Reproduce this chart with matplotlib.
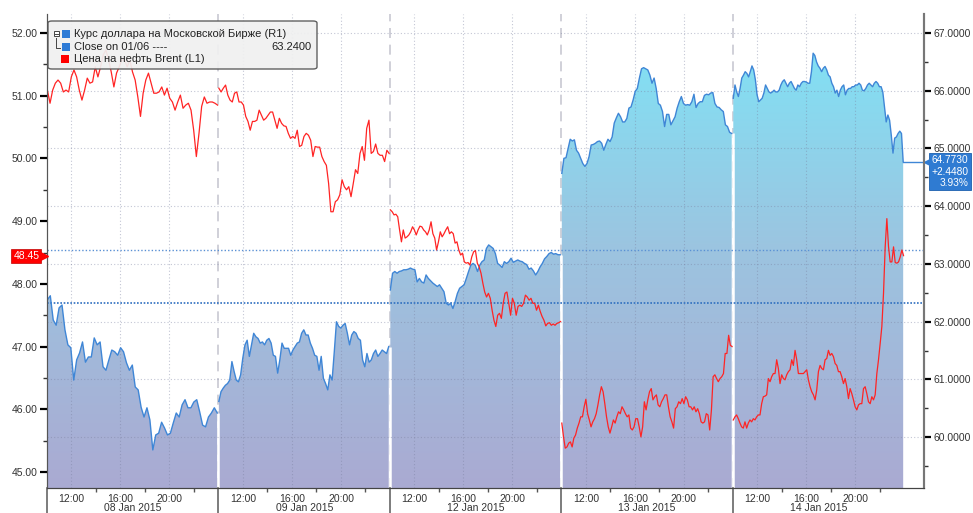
import numpy as np
import matplotlib.pyplot as plt
import matplotlib.transforms as mtransforms
from matplotlib.colors import LinearSegmentedColormap
from matplotlib.patches import Polygon, Rectangle, FancyBboxPatch
from matplotlib.lines import Line2D

plt.rcParams['font.family'] = ['Liberation Sans', 'DejaVu Sans']

days = ["08 Jan 2015", "09 Jan 2015", "12 Jan 2015", "13 Jan 2015", "14 Jan 2015"]
hour_labels = ["12:00", "16:00", "20:00"]

# USD/RUB on Moscow Exchange (right axis), one list per session
usd_08 = [62.38, 62.45, 62.03, 61.94, 62.24, 62.29, 61.86, 61.60, 61.55, 60.99, 61.34, 61.46,
          61.65, 61.30, 61.39, 61.39, 61.72, 61.60, 61.65, 61.22, 61.16, 61.34, 61.51, 61.48,
          61.42, 61.55, 61.48, 61.29, 61.16, 61.25, 60.87, 60.82, 60.52, 60.35, 60.51, 60.30,
          59.78, 60.04, 60.07, 60.26, 60.16, 60.04, 60.07, 60.25, 60.42, 60.35, 60.56, 60.65,
          60.51, 60.51, 60.61, 60.65, 60.44, 60.21, 60.18, 60.35, 60.42, 60.51, 60.42]
usd_09 = [60.62, 60.79, 60.85, 60.90, 60.93, 60.99, 61.31, 61.14, 60.99, 60.96, 61.08, 61.37,
          61.60, 61.68, 61.40, 61.60, 61.80, 61.74, 61.71, 61.63, 61.65, 61.60, 61.68, 61.71,
          61.63, 61.42, 61.40, 61.11, 61.34, 61.63, 61.54, 61.54, 61.54, 61.42, 61.51, 61.57,
          61.63, 61.65, 61.80, 61.86, 61.77, 61.77, 61.63, 61.54, 61.42, 61.40, 61.16, 61.40,
          61.02, 60.93, 60.82, 61.08, 60.99, 61.48, 62.00, 61.92, 61.89, 61.94, 61.97, 61.80,
          61.60, 61.77, 61.83, 61.80, 61.71, 61.68, 61.34, 61.22, 61.45, 61.30, 61.34, 61.45,
          61.51, 61.40, 61.45, 61.51, 61.48, 61.45, 61.57]
usd_12 = [62.55, 62.84, 62.87, 62.84, 62.87, 62.88, 62.90, 62.90, 62.91, 62.93, 62.91, 62.90,
          62.69, 62.75, 62.69, 62.67, 62.81, 62.75, 62.71, 62.67, 62.64, 62.61, 62.64, 62.58,
          62.52, 62.32, 62.29, 62.32, 62.23, 62.35, 62.49, 62.58, 62.61, 62.64, 62.75, 62.87,
          62.98, 63.01, 62.98, 62.87, 62.98, 63.04, 63.07, 63.27, 63.33, 63.30, 63.27, 63.18,
          63.01, 62.98, 62.94, 63.04, 63.01, 63.04, 63.10, 63.03, 63.05, 63.07, 63.05, 63.04,
          63.01, 62.99, 62.91, 62.93, 62.88, 62.81, 62.87, 62.95, 63.01, 63.09, 63.13, 63.18,
          63.20, 63.17, 63.18, 63.16, 63.16]
usd_13 = [64.57, 64.83, 64.84, 65.00, 65.16, 65.13, 65.15, 64.97, 64.92, 64.83, 64.74, 64.69,
          64.74, 64.86, 65.06, 65.07, 65.09, 65.12, 65.13, 65.09, 64.97, 65.07, 65.16, 65.12,
          65.20, 65.44, 65.53, 65.61, 65.55, 65.46, 65.46, 65.52, 65.70, 65.72, 65.84, 65.99,
          66.04, 66.22, 66.38, 66.40, 66.38, 66.36, 66.27, 66.13, 66.22, 66.04, 65.78, 65.75,
          65.64, 65.38, 65.59, 65.59, 65.41, 65.48, 65.55, 65.70, 65.81, 65.90, 65.78, 65.75,
          65.76, 65.75, 65.81, 65.94, 65.71, 65.78, 65.81, 65.81, 65.92, 65.94, 65.93, 65.96,
          65.97, 65.78, 65.72, 65.71, 65.67, 65.64, 65.41, 65.38, 65.28, 65.26]
usd_14 = [65.87, 66.10, 65.98, 65.90, 66.04, 66.22, 66.27, 66.33, 66.30, 66.24, 66.33, 66.43,
          66.36, 66.19, 65.93, 65.81, 65.84, 65.87, 65.96, 66.10, 66.04, 65.98, 65.96, 65.98,
          66.01, 65.98, 65.98, 66.01, 66.10, 66.16, 66.19, 66.13, 66.07, 66.13, 66.16, 66.10,
          66.04, 66.01, 66.10, 66.07, 66.13, 66.16, 66.16, 66.15, 66.13, 66.13, 66.33, 66.65,
          66.61, 66.50, 66.43, 66.39, 66.33, 66.39, 66.42, 66.36, 66.27, 66.24, 66.13, 66.07,
          65.96, 66.01, 65.90, 66.01, 66.07, 66.10, 65.93, 66.01, 66.04, 66.04, 66.07, 66.07,
          66.10, 66.10, 66.13, 66.10, 66.01, 66.00, 66.04, 66.10, 66.13, 66.10, 66.07, 66.13,
          66.16, 66.13, 66.07, 66.07, 65.98, 65.72, 65.46, 65.58, 65.49, 65.23, 64.92, 65.18,
          65.20, 65.26, 65.30, 65.26, 64.773]

# Brent (left axis)
brent_08 = [51.09, 50.88, 51.09, 51.20, 51.25, 51.20, 51.06, 51.09, 51.06, 51.30, 51.41, 51.30,
            51.09, 50.93, 51.09, 51.28, 51.20, 51.22, 51.46, 51.30, 51.46, 51.65, 51.73, 51.57,
            51.38, 51.14, 51.36, 51.46, 51.57, 51.57, 51.46, 51.57, 51.38, 51.25, 50.98, 50.67,
            51.04, 51.25, 51.36, 51.20, 51.04, 51.04, 51.06, 51.14, 51.01, 51.12, 50.96, 50.90,
            50.77, 50.90, 51.01, 50.80, 50.85, 50.88, 50.77, 50.45, 50.03, 50.40, 50.83, 50.98,
            50.88, 50.90, 50.90, 50.88, 50.85]
brent_09 = [51.12, 51.06, 51.12, 51.17, 51.01, 50.93, 50.90, 51.04, 51.06, 50.90, 50.90, 50.85,
            50.67, 50.59, 50.45, 50.59, 50.59, 50.61, 50.77, 50.69, 50.61, 50.64, 50.69, 50.74,
            50.74, 50.61, 50.48, 50.64, 50.56, 50.52, 50.51, 50.40, 50.32, 50.35, 50.32, 50.45,
            50.19, 50.21, 50.35, 50.40, 50.37, 50.29, 50.03, 50.19, 50.18, 50.18, 50.03, 49.95,
            49.89, 49.60, 49.15, 49.15, 49.31, 49.34, 49.42, 49.66, 49.55, 49.50, 49.55, 49.39,
            49.60, 49.82, 49.76, 50.08, 50.19, 49.97, 50.48, 50.61, 50.08, 50.11, 50.23, 50.08,
            50.05, 50.05, 49.95, 50.13, 50.08]
brent_12 = [49.18, 49.15, 49.10, 49.11, 49.07, 48.86, 48.67, 48.86, 48.73, 48.75, 48.78, 48.83,
            48.91, 48.86, 48.78, 48.86, 48.92, 48.91, 48.86, 48.83, 48.78, 48.86, 48.99, 48.80,
            48.73, 48.54, 48.67, 48.83, 48.75, 48.80, 48.86, 48.91, 48.80, 48.83, 48.80, 48.65,
            48.67, 48.54, 48.46, 48.49, 48.35, 48.33, 48.34, 48.30, 48.43, 48.51, 48.53, 48.33,
            48.27, 48.17, 48.01, 47.87, 47.79, 47.85, 47.77, 47.58, 47.42, 47.32, 47.50, 47.53,
            47.45, 47.69, 47.85, 47.87, 47.69, 47.50, 47.77, 47.69, 47.50, 47.64, 47.66, 47.64,
            47.69, 47.82, 47.79, 47.74, 47.77, 47.69, 47.69, 47.58, 47.66, 47.56, 47.48, 47.42,
            47.33, 47.37, 47.38, 47.34, 47.36, 47.34, 47.37, 47.38, 47.40]
brent_13 = [45.78, 45.56, 45.38, 45.40, 45.46, 45.48, 45.40, 45.54, 45.59, 45.70, 45.78, 45.88,
            45.88, 46.04, 46.16, 45.93, 45.83, 45.72, 45.80, 45.85, 45.93, 46.07, 46.23, 46.36,
            46.28, 46.09, 45.88, 45.72, 45.62, 45.72, 45.83, 45.78, 45.88, 45.96, 45.93, 46.04,
            45.99, 45.93, 45.88, 45.91, 45.70, 45.67, 45.72, 45.85, 45.85, 45.72, 45.56, 45.72,
            46.12, 45.99, 46.15, 46.28, 46.33, 46.15, 46.20, 46.23, 46.07, 46.04, 46.12, 46.17,
            46.23, 46.23, 46.04, 45.88, 45.80, 45.70, 46.01, 46.04, 46.12, 46.09, 46.17, 46.09,
            46.20, 46.15, 46.04, 46.04, 45.99, 46.04, 45.96, 46.01, 45.93, 45.80, 45.78, 45.80,
            45.93, 45.91, 45.67, 45.99, 46.52, 46.55, 46.49, 46.44, 46.49, 46.52, 46.57, 46.89,
            46.89, 47.18, 47.02, 47.00]
brent_14 = [45.83, 45.88, 45.91, 45.85, 45.78, 45.72, 45.70, 45.80, 45.70, 45.78, 45.83, 45.80,
            45.85, 45.83, 45.88, 45.91, 45.91, 46.09, 46.20, 46.21, 46.23, 46.49, 46.44, 46.52,
            46.57, 46.57, 46.79, 46.65, 46.41, 46.55, 46.49, 46.47, 46.55, 46.60, 46.63, 46.79,
            46.70, 46.94, 46.79, 46.57, 46.57, 46.57, 46.57, 46.60, 46.63, 46.47, 46.36, 46.28,
            46.23, 46.15, 46.31, 46.60, 46.70, 46.65, 46.63, 46.79, 46.81, 46.94, 46.86, 46.89,
            46.84, 46.73, 46.70, 46.60, 46.60, 46.52, 46.41, 46.49, 46.36, 46.17, 46.33, 46.25,
            46.15, 46.04, 45.99, 46.07, 46.09, 46.09, 46.33, 46.36, 46.25, 46.12, 46.09, 46.20,
            46.15, 46.23, 46.57, 46.79, 47.05, 47.32, 47.85, 48.59, 49.04, 48.59, 48.35, 48.35,
            48.59, 48.34, 48.33, 48.35, 48.43, 48.54, 48.45]

usd_days = [usd_08, usd_09, usd_12, usd_13, usd_14]
brent_days = [brent_08, brent_09, brent_12, brent_13, brent_14]

usd_last = 64.7730
usd_change = 2.4480
usd_ref = usd_last - usd_change
close_0106 = 63.24
brent_last = 48.45

session = 14.0          # trading hours shown per day (10:00 - 24:00)
xmax = 5 * session + 1.6
ylim_l = (44.745, 52.303)
ylim_r = (59.121, 67.329)

fig = plt.figure(figsize=(9.73, 5.13), dpi=100)
ax = fig.add_axes([47 / 973, 25 / 513, 877 / 973, 474 / 513])
ax2 = ax.twinx()
ax.set_zorder(2)
ax.patch.set_visible(False)

cmap = LinearSegmentedColormap.from_list("bbg", ["#aaaad2", "#9cc4e0", "#7de6f8"])
grad = np.linspace(0, 1, 256).reshape(-1, 1)

# day separators (dashed above the area)
for d in range(1, 5):
    ax2.axvline(d * session, color="#c8c8d2", lw=1.2, ls=(0, (6, 4)), zorder=0.5)

times = []
for d, vals in enumerate(usd_days):
    t = d * session + np.linspace(0.03, 13.9, len(vals))
    times.append(t)
    verts = np.column_stack([np.r_[t[0], t, t[-1]], np.r_[ylim_r[0], vals, ylim_r[0]]])
    poly = Polygon(verts, closed=True, fc="none", ec="none")
    ax2.add_patch(poly)
    im = ax2.imshow(grad, extent=[0, xmax, ylim_r[0], ylim_r[1]], origin="lower",
                    aspect="auto", cmap=cmap, zorder=1)
    im.set_clip_path(poly)
    ax2.plot(t, vals, color="#3f86d6", lw=1.0, zorder=4)

for d in range(1, 5):
    top = min(usd_days[d - 1][-1], usd_days[d][0])
    ax2.vlines(d * session, ylim_r[0], top, color="white", lw=1.8, zorder=1.5)

# grid
for v in range(60, 68):
    ax2.axhline(v, color="#7a80a0", alpha=0.45, lw=0.8, ls=(0, (1, 2)), zorder=2)
hour_pos = [d * session + h for d in range(5) for h in (2, 6, 10)]
for x in hour_pos:
    ax2.axvline(x, color="#7a80a0", alpha=0.45, lw=0.8, ls=(0, (1, 2)), zorder=2)

ax2.axhline(close_0106, color="#5a90d4", lw=1.0, ls=(0, (1, 1.5)), zorder=3)
ax2.axhline(usd_ref, color="#2f6fc0", lw=1.2, ls=(0, (1, 1)), zorder=3)
ax2.plot([times[-1][-1], xmax], [usd_last, usd_last], color="#3f86d6", lw=1.0, zorder=4)

for d, vals in enumerate(brent_days):
    t = d * session + np.linspace(0.03, 13.93, len(vals))
    ax.plot(t, vals, color="#ff2424", lw=0.9)

ax.set_xlim(0, xmax)
ax.set_ylim(*ylim_l)
ax2.set_ylim(*ylim_r)

ax.set_yticks(range(45, 53))
ax.set_yticklabels([f"{v:.2f}" for v in range(45, 53)])
ax.set_yticks(np.arange(45.5, 52.5, 1), minor=True)
ax2.set_yticks(range(60, 68))
ax2.set_yticklabels([f"{v:.4f}" for v in range(60, 68)])
ax2.set_yticks(np.arange(59.5, 67.5, 1), minor=True)
for a in (ax, ax2):
    a.tick_params(axis="y", which="major", length=5, width=1.6, color="black",
                  labelsize=7.5, labelcolor="#333333", pad=2)
    a.tick_params(axis="y", which="minor", length=3, width=1, color="#333333")
    a.spines["top"].set_visible(False)

ax.set_xticks(hour_pos)
ax.set_xticklabels(hour_labels * 5)
ax.set_xticks([d * session + h for d in range(5) for h in (4, 8, 12)], minor=True)
ax.tick_params(axis="x", which="major", length=0, pad=4, labelsize=7.5, labelcolor="#333333")
ax.tick_params(axis="x", which="minor", length=3, width=1, color="#555555")

for a in (ax, ax2):
    a.spines["left"].set_color("#555555")
    a.spines["right"].set_color("#777777")
    a.spines["right"].set_linewidth(1.5)
    a.spines["bottom"].set_color("#444444")

tr_x = mtransforms.blended_transform_factory(ax.transData, ax.transAxes)
for d in range(5):
    ax.plot([d * session, d * session], [-0.053, 0], transform=tr_x, color="#666666",
            lw=1.2, clip_on=False)
    ax.text(d * session + session / 2, -0.043, days[d], transform=tr_x, ha="center",
            va="center", fontsize=7.5, color="#333333")

# last value labels
tr_r = mtransforms.blended_transform_factory(ax2.transAxes, ax2.transData)
pct = usd_change / usd_ref * 100
ax2.annotate(f"{usd_last:.4f}\n+{usd_change:.4f}\n{pct:.2f}%", xy=(1, usd_last), xycoords=tr_r,
             xytext=(32, 4.5), textcoords="offset points", ha="right", va="top",
             multialignment="right", color="white", fontsize=7.3, linespacing=1.15,
             bbox=dict(boxstyle="square,pad=0.22", fc="#2f7bd2", ec="#1b5fae", lw=0.6),
             annotation_clip=False, zorder=20)
ax2.plot([1 + 3 / 877], [usd_last], transform=tr_r, marker="<", ms=5, color="#2f7bd2",
         clip_on=False, zorder=21)

tr_l = mtransforms.blended_transform_factory(ax.transAxes, ax.transData)
ax.annotate(f"{brent_last:.2f}", xy=(0, brent_last), xycoords=tr_l, xytext=(-5.5, 0),
            textcoords="offset points", ha="right", va="center", color="white", fontsize=7.5,
            bbox=dict(boxstyle="square,pad=0.2", fc="#ff0000", ec="#c00000", lw=0.5),
            annotation_clip=False, zorder=20)
ax.plot([-3.5 / 877], [brent_last], transform=tr_l, marker=">", ms=6, color="#ff0000",
        clip_on=False, zorder=21)


# legend box, drawn in pixel positions of the figure
def fx(x):
    return x / 973


def fy(y):
    return 1 - y / 513


tf = fig.transFigure
fig.patches.append(FancyBboxPatch((fx(48), fy(69)), fx(317) - fx(48), fy(21) - fy(69),
                                  boxstyle="round,pad=0,rounding_size=0.004", transform=tf,
                                  fc="#f0f0f0", ec="#555555", lw=1, alpha=0.93, zorder=10))
fig.patches.append(Rectangle((fx(53.5), fy(36)), fx(5), fy(31) - fy(36), transform=tf,
                             fc="white", ec="#444444", lw=0.7, zorder=11))
fig.lines.append(Line2D([fx(54.5), fx(57.5)], [fy(33.5), fy(33.5)], transform=tf,
                        color="#444444", lw=0.7, zorder=12))
fig.lines.append(Line2D([fx(56), fx(56), fx(60)], [fy(38), fy(48), fy(48)], transform=tf,
                        color="#444444", lw=0.7, zorder=12))
sq = [(62, 30, "#2e7bd6"), (62, 43, "#2e7bd6"), (61, 54.5, "#ff0000")]
for x0, y0, c in sq:
    fig.patches.append(Rectangle((fx(x0), fy(y0 + 8)), fx(8), fy(y0) - fy(y0 + 8),
                                 transform=tf, fc=c, ec="none", zorder=11))
fig.text(fx(74), fy(34.3), "Курс доллара на Московской Бирже (R1)", fontsize=8,
         color="#222222", va="center", zorder=12)
fig.text(fx(74), fy(47.3), "Close on 01/06 ----", fontsize=8, color="#222222",
         va="center", zorder=12)
fig.text(fx(312), fy(47.3), f"{close_0106:.4f}", fontsize=8, color="#222222",
         va="center", ha="right", zorder=12)
fig.text(fx(74), fy(58.5), "Цена на нефть Brent (L1)", fontsize=8, color="#222222",
         va="center", zorder=12)

fig.savefig("out.png", dpi=100)
